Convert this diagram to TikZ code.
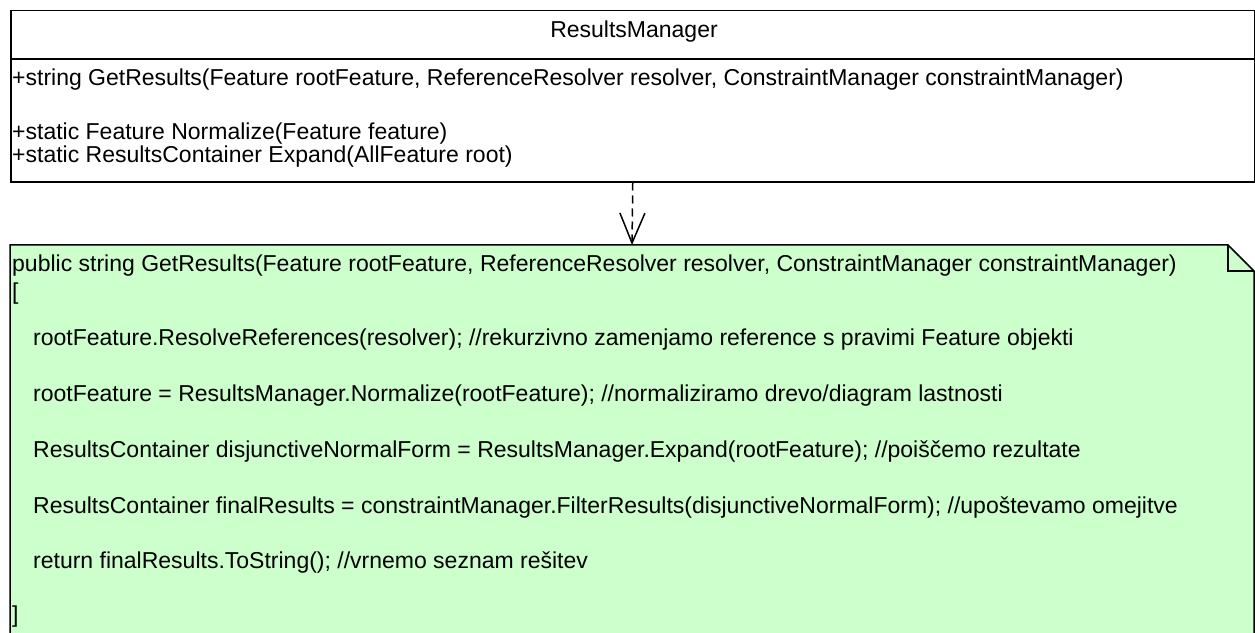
\documentclass[tikz,border=0pt]{standalone}
\usepackage{fontspec}
\setmainfont{Liberation Sans}
\usepackage{xcolor}
\usetikzlibrary{arrows.meta}

\definecolor{notegreen}{RGB}{204,255,204}
\tikzset{
    uml/.style={font=\fontsize{23bp}{25bp}\selectfont},
    member/.style={uml, anchor=base west, inner sep=0pt},
}

\begin{document}
\begin{tikzpicture}[x=1bp, y=-1bp]
        \useasboundingbox (0,0) rectangle (1255,633);

        % class
        \node[draw, line width=1.5bp, anchor=north west, inner sep=0pt,
              minimum width=1244bp, minimum height=171bp] (manager) at (10,10) {};
        \draw[line width=1.2bp] (10,59) -- (1254,59);
        \node[uml, anchor=base, inner sep=0pt] (name) at (634,38) {ResultsManager};
        \node[member] (m1) at (12,86) {+string GetResults(Feature rootFeature, ReferenceResolver resolver, ConstraintManager constraintManager)};
        \node[member] (m2) at (12,140) {+static Feature Normalize(Feature feature)};
        \node[member] (m3) at (12,163) {+static ResultsContainer Expand(AllFeature root)};

        % note
        \draw[fill=notegreen, line width=1.5bp] (10,660) -- (10,245) -- (1228,245) -- (1254,271) -- (1254,660);
        \draw[line width=1.5bp] (1228,245) -- (1228,271) -- (1254,271);
        \coordinate (notetop) at (632,245);

        \node[member] (n1) at (12,272) {public string GetResults(Feature rootFeature, ReferenceResolver resolver, ConstraintManager constraintManager)};
        \node[member] (n2) at (12,300) {[};
        \node[member] (n3) at (33,346) {rootFeature.ResolveReferences(resolver); //rekurzivno zamenjamo reference s pravimi Feature objekti};
        \node[member] (n4) at (33,401) {rootFeature = ResultsManager.Normalize(rootFeature); //normaliziramo drevo/diagram lastnosti};
        \node[member] (n5) at (33,457) {ResultsContainer disjunctiveNormalForm = ResultsManager.Expand(rootFeature); //poiščemo rezultate};
        \node[member] (n6) at (33,513) {ResultsContainer finalResults = constraintManager.FilterResults(disjunctiveNormalForm); //upoštevamo omejitve};
        \node[member] (n7) at (33,568) {return finalResults.ToString(); //vrnemo seznam rešitev};
        \node[member] (n8) at (12,622) {]};

        \draw[line width=1.5bp, dash pattern=on 8bp off 5bp,
              -{Straight Barb[length=30bp, width=25bp]}] (manager.south) -- (notetop); % realization
    \end{tikzpicture}
\end{document}
